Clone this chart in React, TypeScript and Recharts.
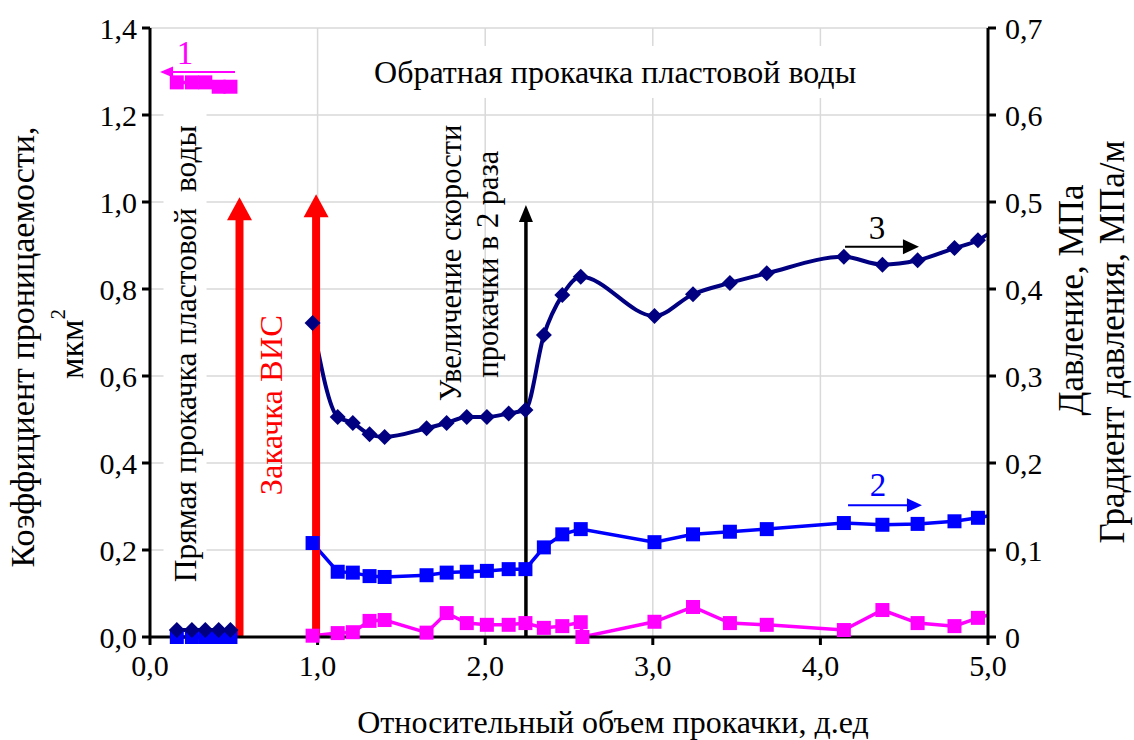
import React from 'react';
import {
  LineChart, Line, XAxis, YAxis, CartesianGrid, ReferenceLine, ReferenceDot, Label,
} from 'recharts';

// x: relative pumped volume, д.ед
const xStart = [0.16, 0.25, 0.33, 0.41, 0.48];
const xMain = [0.97, 1.12, 1.21, 1.31, 1.4, 1.65, 1.77, 1.89, 2.01, 2.14, 2.24, 2.35, 2.46, 2.57,
  3.01, 3.24, 3.46, 3.68, 4.14, 4.37, 4.58, 4.8, 4.94, 5.0];
const xPink = [0.97, 1.12, 1.21, 1.31, 1.4, 1.65, 1.77, 1.89, 2.01, 2.14, 2.24, 2.35, 2.46, 2.57, 2.58,
  3.01, 3.24, 3.46, 3.68, 4.14, 4.37, 4.58, 4.8, 4.94, 5.0];

// curve 1 – permeability (left axis)
const permStart = [1.275, 1.275, 1.275, 1.265, 1.265];
const permMain = [0.003, 0.009, 0.011, 0.037, 0.039, 0.01, 0.055, 0.032, 0.028, 0.028, 0.032, 0.021, 0.025, 0.034, 0.0,
  0.035, 0.069, 0.032, 0.028, 0.016, 0.062, 0.032, 0.025, 0.044, 0.05];

// curve 2 – blue squares (right axis)
const c2Start = [0, 0, 0, 0, 0];
const c2Main = [0.108, 0.075, 0.074, 0.07, 0.069, 0.071, 0.074, 0.075, 0.076, 0.078, 0.078, 0.103, 0.118, 0.124,
  0.109, 0.118, 0.121, 0.124, 0.131, 0.129, 0.13, 0.133, 0.137, 0.139];

// curve 3 – navy diamonds (right axis)
const c3Start = [0.008, 0.008, 0.008, 0.008, 0.008];
const c3Main = [0.361, 0.253, 0.246, 0.233, 0.23, 0.24, 0.246, 0.253, 0.253, 0.257, 0.261, 0.347, 0.393, 0.414,
  0.369, 0.394, 0.407, 0.418, 0.437, 0.428, 0.433, 0.447, 0.456, 0.463];

const xTicks = [0, 1, 2, 3, 4, 5];
const leftTicks = [0, 0.2, 0.4, 0.6, 0.8, 1.0, 1.2, 1.4];
const rightTicks = [0, 0.1, 0.2, 0.3, 0.4, 0.5, 0.6, 0.7];

const pts = (xs: number[], ys: number[]) => xs.map((x, i) => ({ x, y: ys[i] }));
const gap = { x: 0.75, y: null };

const pinkData = [...pts(xStart, permStart), gap, ...pts(xPink, permMain)];
const blueData = [...pts(xStart, c2Start), gap, ...pts(xMain, c2Main)];
const navyData = [...pts(xStart, c3Start), gap, ...pts(xMain, c3Main)];

const FONT = '"Liberation Serif", "Times New Roman", serif';
const comma = (v: number) => v.toFixed(1).replace('.', ',');
const commaR = (v: number) => (v === 0 ? '0' : comma(v));

const squareDot = (color: string, s: number) => (p: any) => {
  const { cx, cy, index, payload } = p;
  if (cx == null || cy == null || payload?.y == null || payload.x >= 5) return <g key={`s${index}`} />;
  return <rect key={`s${index}`} x={cx - s} y={cy - s} width={s * 2} height={s * 2} fill={color} />;
};

const diamondDot = (color: string, s: number) => (p: any) => {
  const { cx, cy, index, payload } = p;
  if (cx == null || cy == null || payload?.y == null || payload.x >= 5) return <g key={`d${index}`} />;
  return (
    <path key={`d${index}`} d={`M${cx},${cy - s}L${cx + s},${cy}L${cx},${cy + s}L${cx - s},${cy}Z`} fill={color} />
  );
};

const arrow = (color: string, w: number, headL: number, headW: number) => (p: any) => {
  const { x1, y1, x2, y2 } = p;
  const dx = x2 - x1;
  const dy = y2 - y1;
  const len = Math.sqrt(dx * dx + dy * dy) || 1;
  const ux = dx / len;
  const uy = dy / len;
  const bx = x2 - ux * headL;
  const by = y2 - uy * headL;
  const nx = -uy * headW / 2;
  const ny = ux * headW / 2;
  return (
    <g>
      <line x1={x1} y1={y1} x2={bx + ux} y2={by + uy} stroke={color} strokeWidth={w} />
      <polygon points={`${x2},${y2} ${bx + nx},${by + ny} ${bx - nx},${by - ny}`} fill={color} />
    </g>
  );
};

const note = (label: string, opts: { color?: string; size?: number; rotate?: boolean; box?: [number, number] }) =>
  (p: any) => {
    const { cx, cy } = p;
    const size = opts.size ?? 30;
    return (
      <g>
        {opts.box && (
          <rect x={cx - opts.box[0] / 2} y={cy - opts.box[1] / 2} width={opts.box[0]} height={opts.box[1]} fill="#fff" />
        )}
        <text
          x={cx}
          y={cy}
          transform={opts.rotate ? `rotate(-90 ${cx} ${cy})` : undefined}
          textAnchor="middle"
          dominantBaseline="central"
          fontSize={size}
          fontFamily={FONT}
          fill={opts.color ?? '#000'}
          style={{ whiteSpace: 'pre' }}
        >
          {label}
        </text>
      </g>
    );
  };

// axis titles, placed in the margins beside the plot
const LeftTitle = () => (
  <g fontFamily={FONT} fontSize={34} fill="#000">
    <text transform="translate(22, 347) rotate(-90)" textAnchor="middle" dominantBaseline="central">
      Коэффициент проницаемости,
    </text>
    <text transform="translate(71, 344) rotate(-90)" textAnchor="middle" dominantBaseline="central">
      мкм<tspan dy={-13} fontSize={21}>2</tspan>
    </text>
  </g>
);

const RightTitle = () => (
  <g fontFamily={FONT} fontSize={35} fill="#000">
    <text transform="translate(1071, 300) rotate(-90)" textAnchor="middle" dominantBaseline="central">
      Давление, МПа
    </text>
    <text transform="translate(1112, 342) rotate(-90)" textAnchor="middle" dominantBaseline="central">
      Градиент давления, МПа/м
    </text>
  </g>
);

const BottomTitle = () => (
  <text x={613} y={722} textAnchor="middle" dominantBaseline="central" fontFamily={FONT} fontSize={32} fill="#000">
    Относительный объем прокачки, д.ед
  </text>
);

const tickStyle = { fontFamily: FONT, fontSize: 30, fill: '#000' };
const axisLine = { stroke: '#000', strokeWidth: 3 };

export default function App() {
  return (
    <div style={{ position: 'absolute', left: 0, top: 0, background: '#fff' }}>
      <LineChart width={1134} height={740} margin={{ top: 28, right: 0, bottom: 0, left: 0 }}>
        <CartesianGrid yAxisId="left" stroke="#d9d9d9" strokeWidth={1.5} />
        <XAxis
          dataKey="x"
          type="number"
          domain={[0, 5]}
          ticks={xTicks}
          tickFormatter={comma}
          height={103}
          tick={tickStyle}
          tickSize={8}
          tickMargin={10}
          axisLine={axisLine}
          tickLine={axisLine}
        >
          <Label content={BottomTitle} />
        </XAxis>
        <YAxis
          yAxisId="left"
          domain={[0, 1.4]}
          ticks={leftTicks}
          tickFormatter={comma}
          width={150}
          tick={tickStyle}
          tickSize={8}
          tickMargin={5}
          axisLine={axisLine}
          tickLine={axisLine}
        >
          <Label content={LeftTitle} />
        </YAxis>
        <YAxis
          yAxisId="right"
          orientation="right"
          domain={[0, 0.7]}
          ticks={rightTicks}
          tickFormatter={commaR}
          width={146}
          tick={{ ...tickStyle, textAnchor: 'start' }}
          tickSize={8}
          tickMargin={9}
          axisLine={axisLine}
          tickLine={axisLine}
        >
          <Label content={RightTitle} />
        </YAxis>

        <ReferenceDot yAxisId="left" x={0.209} y={0.651} r={0} ifOverflow="visible"
          shape={note('Прямая прокачка пластовой  воды', { rotate: true, size: 31.5, box: [43, 520] })} />
        <ReferenceDot yAxisId="left" x={2.775} y={1.299} r={0} ifOverflow="visible"
          shape={note('Обратная прокачка пластовой воды', { size: 32, box: [540, 52] })} />

        <Line data={pinkData} dataKey="y" yAxisId="left" type="linear" stroke="#ff00ff" strokeWidth={3.5}
          dot={squareDot('#ff00ff', 7)} activeDot={false} isAnimationActive={false} />
        <Line data={blueData} dataKey="y" yAxisId="right" type="linear" stroke="#0000ff" strokeWidth={3.5}
          dot={squareDot('#0000ff', 7)} activeDot={false} isAnimationActive={false} />
        <Line data={navyData} dataKey="y" yAxisId="right" type="monotone" stroke="#000080" strokeWidth={4}
          dot={diamondDot('#000080', 8)} activeDot={false} isAnimationActive={false} />

        <ReferenceLine yAxisId="left" segment={[{ x: 0.534, y: 0 }, { x: 0.534, y: 1.011 }]} ifOverflow="visible"
          shape={arrow('#ff0000', 8, 23, 25)} />
        <ReferenceLine yAxisId="left" segment={[{ x: 0.991, y: 0 }, { x: 0.991, y: 1.018 }]} ifOverflow="visible"
          shape={arrow('#ff0000', 8, 23, 25)} />
        <ReferenceLine yAxisId="left" segment={[{ x: 2.243, y: 0 }, { x: 2.243, y: 0.993 }]} ifOverflow="visible"
          shape={arrow('#000', 3.5, 17, 14)} />
        <ReferenceLine yAxisId="left" segment={[{ x: 0.507, y: 1.299 }, { x: 0.06, y: 1.299 }]} ifOverflow="visible"
          shape={arrow('#ff00ff', 2, 13, 11)} />
        <ReferenceLine yAxisId="left" segment={[{ x: 4.147, y: 0.897 }, { x: 4.588, y: 0.897 }]} ifOverflow="visible"
          shape={arrow('#000', 2, 16, 15)} />
        <ReferenceLine yAxisId="left" segment={[{ x: 4.165, y: 0.303 }, { x: 4.606, y: 0.303 }]} ifOverflow="visible"
          shape={arrow('#0000ff', 2, 15, 14)} />

        <ReferenceDot yAxisId="left" x={0.722} y={0.533} r={0} ifOverflow="visible"
          shape={note('Закачка ВИС', { rotate: true, color: '#ff0000', size: 32.5 })} />
        <ReferenceDot yAxisId="left" x={1.796} y={0.86} r={0} ifOverflow="visible"
          shape={note('Увеличение скорости', { rotate: true, size: 30.5 })} />
        <ReferenceDot yAxisId="left" x={2.017} y={0.857} r={0} ifOverflow="visible"
          shape={note('прокачки в 2 раза', { rotate: true, size: 30.5 })} />
        <ReferenceDot yAxisId="left" x={0.209} y={1.343} r={0} ifOverflow="visible"
          shape={note('1', { color: '#ff00ff', size: 33 })} />
        <ReferenceDot yAxisId="left" x={4.338} y={0.94} r={0} ifOverflow="visible"
          shape={note('3', { size: 33 })} />
        <ReferenceDot yAxisId="left" x={4.344} y={0.349} r={0} ifOverflow="visible"
          shape={note('2', { color: '#0000ff', size: 33 })} />
      </LineChart>
    </div>
  );
}
